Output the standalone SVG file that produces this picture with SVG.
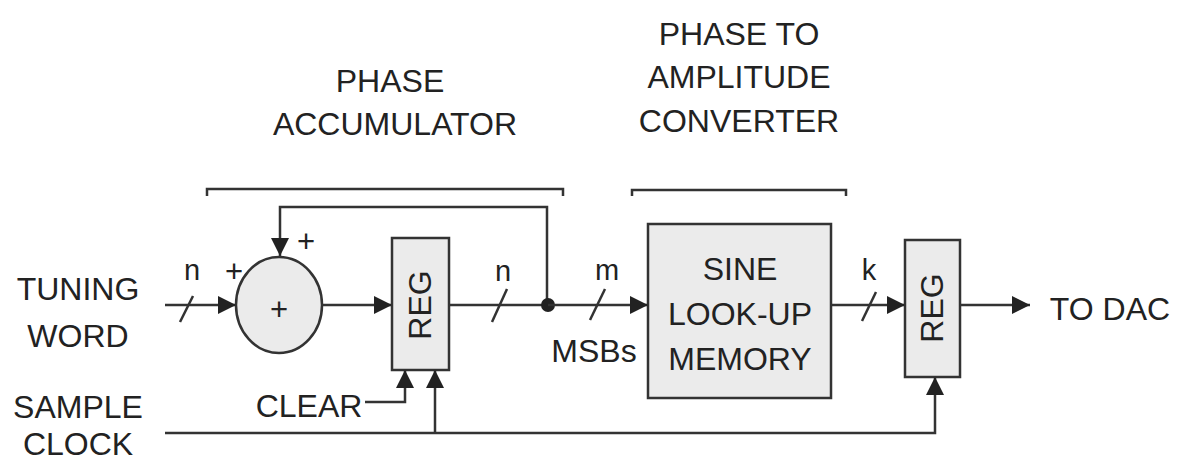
<svg xmlns="http://www.w3.org/2000/svg" width="1183" height="463" viewBox="0 0 1183 463">
<style>
.t{font-family:"Liberation Sans",Arial,sans-serif;font-size:32px;fill:#222}
.s{font-family:"Liberation Sans",Arial,sans-serif;font-size:29px;fill:#222}
.p{font-family:"Liberation Sans",Arial,sans-serif;font-size:31px;fill:#222}
.ln{fill:none;stroke:#333;stroke-width:2.5}
.bx{fill:#ebebeb;stroke:#333;stroke-width:2.5}
</style>
<defs>
<marker id="ah" viewBox="0 0 10 10" refX="10" refY="5" markerWidth="19" markerHeight="18" markerUnits="userSpaceOnUse" orient="auto">
<path d="M0,0 L10,5 L0,10 Z" fill="#222"/>
</marker>
</defs>
<rect width="1183" height="463" fill="#fff"/>
<g id="labels">
<text class="t" x="390" y="92" text-anchor="middle">PHASE</text>
<text class="t" x="395" y="135" text-anchor="middle">ACCUMULATOR</text>
<text class="t" x="739" y="45" text-anchor="middle">PHASE TO</text>
<text class="t" x="739" y="88" text-anchor="middle">AMPLITUDE</text>
<text class="t" x="739" y="132" text-anchor="middle">CONVERTER</text>
<text class="t" x="78" y="300" text-anchor="middle">TUNING</text>
<text class="t" x="78" y="347" text-anchor="middle">WORD</text>
<text class="t" x="78" y="418" text-anchor="middle">SAMPLE</text>
<text class="t" x="78" y="455" text-anchor="middle">CLOCK</text>
<text class="t" x="309" y="417" text-anchor="middle">CLEAR</text>
<text class="t" x="1110" y="320" text-anchor="middle">TO DAC</text>
<text class="t" x="594" y="362" text-anchor="middle">MSBs</text>
<text class="s" x="192" y="280" text-anchor="middle">n</text>
<text class="s" x="503" y="281" text-anchor="middle">n</text>
<text class="s" x="607" y="280" text-anchor="middle">m</text>
<text class="s" x="869" y="280" text-anchor="middle">k</text>
<text class="p" x="234" y="282" text-anchor="middle">+</text>
<text class="p" x="306" y="252" text-anchor="middle">+</text>
</g>
<g id="brackets">
<path class="ln" d="M207,196 V189 H563 V196"/>
<path class="ln" d="M632,196 V190 H846 V196"/>
</g>
<g id="adder">
<ellipse class="bx" cx="279" cy="305" rx="43" ry="48"/>
<text class="p" x="279" y="320" text-anchor="middle">+</text>
</g>
<g id="reg1">
<rect class="bx" x="392" y="238" width="57" height="132"/>
<text class="t" transform="translate(431,305) rotate(-90)" text-anchor="middle">REG</text>
</g>
<g id="sine">
<rect class="bx" x="648" y="224" width="183" height="174"/>
<text class="t" x="740" y="280" text-anchor="middle">SINE</text>
<text class="t" x="740" y="325" text-anchor="middle">LOOK-UP</text>
<text class="t" x="740" y="370" text-anchor="middle">MEMORY</text>
</g>
<g id="reg2">
<rect class="bx" x="905" y="240" width="55" height="137"/>
<text class="t" transform="translate(943,308) rotate(-90)" text-anchor="middle">REG</text>
</g>
<g id="connectors">
<line class="ln" x1="165" y1="305" x2="236" y2="305" marker-end="url(#ah)"/>
<line class="ln" x1="180" y1="322" x2="193" y2="296"/>
<path class="ln" d="M547,305 V207 H280 V256" marker-end="url(#ah)"/>
<line class="ln" x1="322" y1="305" x2="392" y2="305" marker-end="url(#ah)"/>
<line class="ln" x1="449" y1="305" x2="547" y2="305"/>
<line class="ln" x1="492" y1="322" x2="507" y2="289"/>
<circle cx="548" cy="305" r="7" fill="#222"/>
<line class="ln" x1="548" y1="305" x2="648" y2="305" marker-end="url(#ah)"/>
<line class="ln" x1="590" y1="320" x2="605" y2="289"/>
<line class="ln" x1="831" y1="305" x2="905" y2="305" marker-end="url(#ah)"/>
<line class="ln" x1="862" y1="321" x2="876" y2="292"/>
<line class="ln" x1="960" y1="305" x2="1030" y2="305" marker-end="url(#ah)"/>
<path class="ln" d="M365,402 H405 V370" marker-end="url(#ah)"/>
<path class="ln" d="M165,433 H935 V377" marker-end="url(#ah)"/>
<line class="ln" x1="435" y1="433" x2="435" y2="370" marker-end="url(#ah)"/>
</g>
</svg>
